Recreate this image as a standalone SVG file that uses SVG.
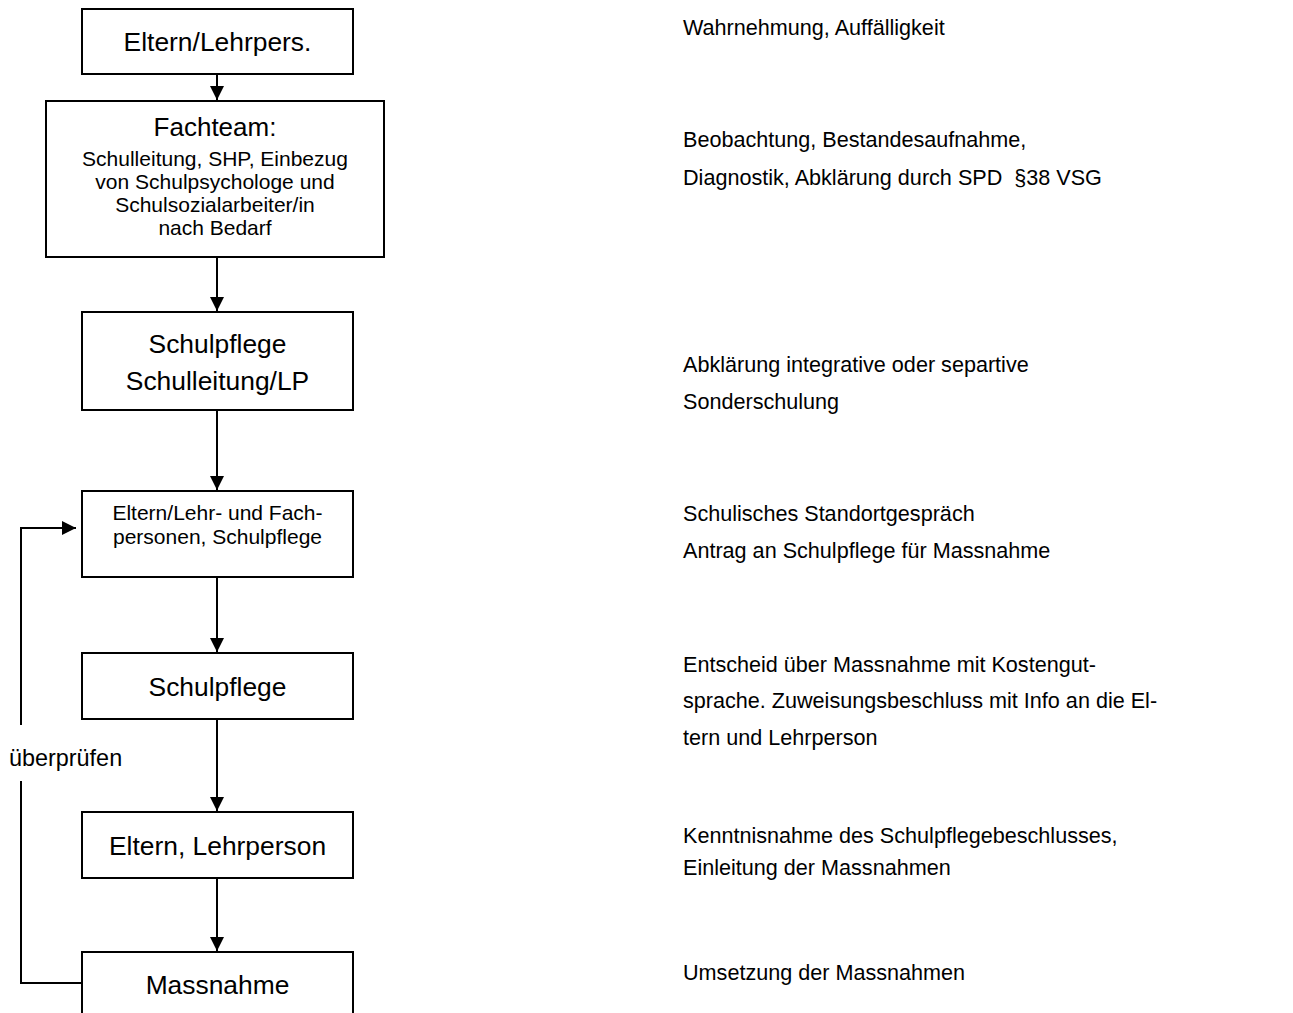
<svg xmlns="http://www.w3.org/2000/svg" width="1293" height="1013" viewBox="0 0 1293 1013">
<style>
  .box { fill: #ffffff; stroke: #000000; stroke-width: 2; }
  .t { font-family: "Liberation Sans", Arial, sans-serif; fill: #000000; }
  .lg { font-size: 26.4px; text-anchor: middle; }
  .sm { font-size: 21px; text-anchor: middle; }
  .note { font-size: 21.6px; }
  .line { fill: none; stroke: #000000; stroke-width: 2; }
</style>
<defs>
  <marker id="arrow" viewBox="0 0 14 14" refX="14" refY="7" markerWidth="14" markerHeight="14" markerUnits="userSpaceOnUse" orient="auto">
    <path d="M0,0 L14,7 L0,14 Z" fill="#000000"/>
  </marker>
</defs>
<rect width="1293" height="1013" fill="#ffffff"/>

<g id="connectors">
  <line class="line" x1="217" y1="74" x2="217" y2="100" marker-end="url(#arrow)"/>
  <line class="line" x1="217" y1="257" x2="217" y2="311" marker-end="url(#arrow)"/>
  <line class="line" x1="217" y1="410" x2="217" y2="490" marker-end="url(#arrow)"/>
  <line class="line" x1="217" y1="577" x2="217" y2="652" marker-end="url(#arrow)"/>
  <line class="line" x1="217" y1="719" x2="217" y2="811" marker-end="url(#arrow)"/>
  <line class="line" x1="217" y1="878" x2="217" y2="951" marker-end="url(#arrow)"/>
  <polyline class="line" points="82,983 21,983 21,781"/>
  <polyline class="line" points="21,725 21,528 76,528" marker-end="url(#arrow)"/>
  <text class="t" x="9" y="766" font-size="23.4px">überprüfen</text>
</g>

<g id="n1">
  <rect class="box" x="82" y="9" width="271" height="65"/>
  <text class="t lg" x="217.5" y="51">Eltern/Lehrpers.</text>
</g>
<g id="n2">
  <rect class="box" x="46" y="101" width="338" height="156"/>
  <text class="t" x="215" y="136" font-size="26px" text-anchor="middle">Fachteam:</text>
  <text class="t sm" x="215" y="166">Schulleitung, SHP, Einbezug</text>
  <text class="t sm" x="215" y="189">von Schulpsychologe und</text>
  <text class="t sm" x="215" y="212">Schulsozialarbeiter/in</text>
  <text class="t sm" x="215" y="235">nach Bedarf</text>
</g>
<g id="n3">
  <rect class="box" x="82" y="312" width="271" height="98"/>
  <text class="t lg" x="217.5" y="353">Schulpflege</text>
  <text class="t lg" x="217.5" y="390">Schulleitung/LP</text>
</g>
<g id="n4">
  <rect class="box" x="82" y="491" width="271" height="86"/>
  <text class="t sm" x="217.5" y="520">Eltern/Lehr- und Fach-</text>
  <text class="t sm" x="217.5" y="544">personen, Schulpflege</text>
</g>
<g id="n5">
  <rect class="box" x="82" y="653" width="271" height="66"/>
  <text class="t lg" x="217.5" y="696">Schulpflege</text>
</g>
<g id="n6">
  <rect class="box" x="82" y="812" width="271" height="66"/>
  <text class="t lg" x="217.5" y="855">Eltern, Lehrperson</text>
</g>
<g id="n7">
  <rect class="box" x="82" y="952" width="271" height="80"/>
  <text class="t lg" x="217.5" y="994">Massnahme</text>
</g>

<g id="notes">
  <text class="t note" x="683" y="35">Wahrnehmung, Auffälligkeit</text>
  <text class="t note" x="683" y="147">Beobachtung, Bestandesaufnahme,</text>
  <text class="t note" x="683" y="185" xml:space="preserve">Diagnostik, Abklärung durch SPD  §38 VSG</text>
  <text class="t note" x="683" y="372">Abklärung integrative oder separtive</text>
  <text class="t note" x="683" y="409">Sonderschulung</text>
  <text class="t note" x="683" y="521">Schulisches Standortgespräch</text>
  <text class="t note" x="683" y="558">Antrag an Schulpflege für Massnahme</text>
  <text class="t note" x="683" y="672">Entscheid über Massnahme mit Kostengut-</text>
  <text class="t note" x="683" y="708">sprache. Zuweisungsbeschluss mit Info an die El-</text>
  <text class="t note" x="683" y="745">tern und Lehrperson</text>
  <text class="t note" x="683" y="843">Kenntnisnahme des Schulpflegebeschlusses,</text>
  <text class="t note" x="683" y="875">Einleitung der Massnahmen</text>
  <text class="t note" x="683" y="980">Umsetzung der Massnahmen</text>
</g>
</svg>
